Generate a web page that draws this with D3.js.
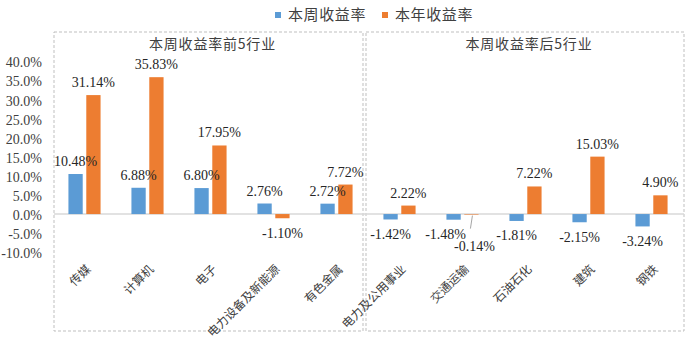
<!DOCTYPE html>
<html>
<head>
<meta charset="utf-8">
<script src="https://cdn.jsdelivr.net/npm/d3@7"></script>
<style>
  html, body { margin: 0; padding: 0; background: #fff; }
  svg { display: block; }
  .num { font-family: "Liberation Serif", "Times New Roman", "DejaVu Serif", serif; }
  .cjk { font-family: "Noto Sans CJK SC", "Noto Sans", sans-serif; }
</style>
</head>
<body>
<svg id="chart" width="700" height="346"></svg>
<script>
// Industry returns: the five best and five worst performers of the week
const categories = ["传媒", "计算机", "电子", "电力设备及新能源", "有色金属",
                    "电力及公用事业", "交通运输", "石油石化", "建筑", "钢铁"];
const weekReturn = [10.48, 6.88, 6.80, 2.76, 2.72, -1.42, -1.48, -1.81, -2.15, -3.24];
const yearReturn = [31.14, 35.83, 17.95, -1.10, 7.72, 2.22, -0.14, 7.22, 15.03, 4.90];
const seriesNames = ["本周收益率", "本年收益率"];
const seriesColors = ["#5b9bd5", "#ed7d31"];
const panelTitles = ["本周收益率前5行业", "本周收益率后5行业"];
const yTicks = [-10, -5, 0, 5, 10, 15, 20, 25, 30, 35, 40];

const svg = d3.select("#chart");
const textColor = "#404040";

const x0 = d3.scaleBand().domain(categories).range([53, 683]).paddingInner(0.49).paddingOuter(0.245);
const x1 = d3.scaleBand().domain([0, 1]).range([0, x0.bandwidth()]).paddingInner(0.2);
const y = d3.scaleLinear().domain([-10, 40]).range([252.25, 61.25]);

const rows = categories.map((c, i) => ({ cat: c, vals: [weekReturn[i], yearReturn[i]] }));
const fmt = v => v.toFixed(2) + "%";

// Panel frames (dashed)
const split = x0(categories[5]) - x0.step() * x0.paddingInner() / 2;
const frames = [[x0.range()[0] + 1, split - 5], [split - 2, x0.range()[1] + 1]];
svg.selectAll("rect.frame").data(frames).join("rect")
  .attr("class", "frame")
  .attr("x", d => d[0]).attr("y", 32)
  .attr("width", d => d[1] - d[0]).attr("height", 299)
  .attr("fill", "none").attr("stroke", "#bfbfbf").attr("stroke-width", 1)
  .attr("stroke-dasharray", "3,2");

svg.selectAll("text.ptitle").data(panelTitles).join("text")
  .attr("class", "ptitle cjk")
  .attr("x", (d, i) => (frames[i][0] + frames[i][1]) / 2 + 4)
  .attr("y", 44).attr("dy", "0.35em")
  .attr("text-anchor", "middle")
  .attr("font-size", 14).attr("letter-spacing", 0.8)
  .attr("fill", textColor)
  .text(d => d);

// Y axis labels (no axis line)
const yAxis = svg.append("g").attr("transform", "translate(42,0)")
  .call(d3.axisLeft(y).tickValues(yTicks).tickSize(0).tickPadding(0)
    .tickFormat(d => d.toFixed(1) + "%"));
yAxis.attr("font-family", null);
yAxis.select(".domain").remove();
yAxis.selectAll("text").attr("class", "num").attr("font-size", 14)
  .attr("fill", textColor).attr("dy", "0.4em");

// Zero line
svg.append("line")
  .attr("x1", x0.range()[0] + 1).attr("x2", x0.range()[1] + 1)
  .attr("y1", y(0)).attr("y2", y(0))
  .attr("stroke", "#d9d9d9").attr("stroke-width", 1.5);

// Bars
const groups = svg.selectAll("g.cat").data(rows).join("g")
  .attr("class", "cat")
  .attr("transform", d => `translate(${x0(d.cat)},0)`);

groups.selectAll("rect").data(d => d.vals).join("rect")
  .attr("x", (v, i) => x1(i))
  .attr("width", x1.bandwidth())
  .attr("y", v => y(Math.max(0, v)))
  .attr("height", v => Math.abs(y(v) - y(0)))
  .attr("fill", (v, i) => seriesColors[i]);

// Value labels; a tiny negative bar next to a negative neighbour gets
// its label pushed down with a leader line so the two do not collide.
groups.each(function (d) {
  const g = d3.select(this);
  const crowded = d.vals[0] < 0 && d.vals[1] < 0 && Math.abs(y(d.vals[1]) - y(0)) < 3;
  d.vals.forEach((v, i) => {
    const cx = x1(i) + x1.bandwidth() / 2;
    let ty = v >= 0 ? y(v) - 8 : y(v) + 19.5;
    let tx = cx;
    if (crowded && i === 1) {
      ty += 17;
      tx += 3;
      g.append("line")
        .attr("x1", cx + 1).attr("y1", y(v) + 1)
        .attr("x2", cx - 1).attr("y2", y(v) + 14)
        .attr("stroke", "#a6a6a6").attr("stroke-width", 1);
    }
    if (crowded && i === 0) tx -= 8;
    g.append("text")
      .attr("class", "num")
      .attr("x", tx).attr("y", ty)
      .attr("text-anchor", "middle")
      .attr("font-size", 14)
      .attr("fill", "#262626")
      .text(fmt(v));
  });
});

// Category labels, rotated 45 degrees
svg.selectAll("text.catlabel").data(categories).join("text")
  .attr("class", "catlabel cjk")
  .attr("transform", d => `translate(${x0(d) + x0.bandwidth() / 2 + 3},266) rotate(-45)`)
  .attr("text-anchor", "end")
  .attr("dominant-baseline", "central")
  .attr("font-size", 12)
  .attr("fill", textColor)
  .text(d => d);

// Legend
const legend = svg.append("g").attr("transform", "translate(275,15)");
let lx = 0;
seriesNames.forEach((name, i) => {
  legend.append("rect").attr("x", lx).attr("y", -3).attr("width", 6).attr("height", 6)
    .attr("fill", seriesColors[i]);
  legend.append("text").attr("class", "cjk")
    .attr("x", lx + 13).attr("y", 0).attr("dy", "0.35em")
    .attr("font-size", 15).attr("letter-spacing", 0.6)
    .attr("fill", textColor).text(name);
  lx += 107;
});
</script>
</body>
</html>
